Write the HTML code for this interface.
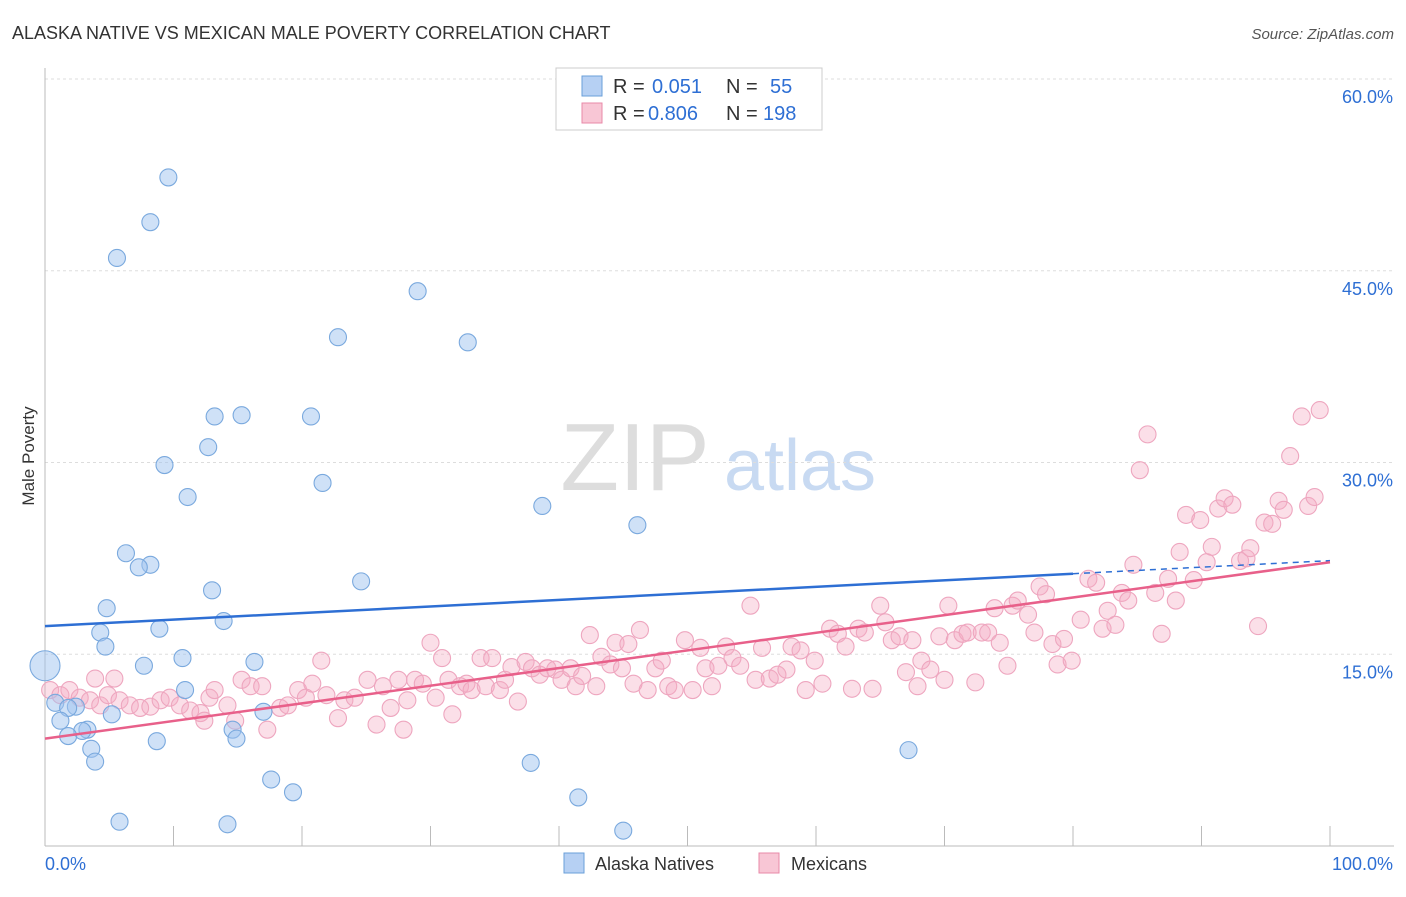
<!DOCTYPE html>
<html><head><meta charset="utf-8"><style>
body{margin:0;background:#fff;font-family:"Liberation Sans",sans-serif}
svg text{font-family:"Liberation Sans",sans-serif}
</style></head><body>
<svg id="chart" width="1406" height="892" viewBox="0 0 1406 892" xmlns="http://www.w3.org/2000/svg">
<text x="12" y="39" font-size="18" fill="#333">ALASKA NATIVE VS MEXICAN MALE POVERTY CORRELATION CHART</text>
<text x="1394" y="39" font-size="15" fill="#555" font-style="italic" text-anchor="end">Source: ZipAtlas.com</text>
<text x="34" y="456" font-size="17" fill="#333" text-anchor="middle" transform="rotate(-90 34 456)">Male Poverty</text>
<g><text x="635" y="490" font-size="96" fill="#ddd" font-family="Liberation Serif" text-anchor="middle">ZIP</text><text x="800" y="490" font-size="72" fill="#c8daf2" text-anchor="middle">atlas</text></g>
<g id="grid"></g>
<g id="axes"></g>
<g id="pts"></g>
<g id="lines"></g>
<g>
<rect x="556" y="68" width="266" height="62" fill="#fff" stroke="#ccc"/>
<rect x="582" y="76" width="20" height="20" fill="#b6d0f3" stroke="#6a9fd8"/>
<rect x="582" y="103" width="20" height="20" fill="#f8c6d5" stroke="#e889a8"/>
<text x="613" y="93" font-size="20" fill="#333">R =</text>
<text x="652" y="93" font-size="20" fill="#2e6fd4">0.051</text>
<text x="726" y="93" font-size="20" fill="#333">N =</text>
<text x="770" y="93" font-size="20" fill="#2e6fd4">55</text>
<text x="613" y="120" font-size="20" fill="#333">R =</text>
<text x="648" y="120" font-size="20" fill="#2e6fd4">0.806</text>
<text x="726" y="120" font-size="20" fill="#333">N =</text>
<text x="763" y="120" font-size="20" fill="#2e6fd4">198</text>
</g>
<g>
<rect x="564" y="853" width="20" height="20" fill="#b6d0f3" stroke="#6a9fd8"/>
<text x="595" y="870" font-size="18" fill="#333">Alaska Natives</text>
<rect x="759" y="853" width="20" height="20" fill="#f8c6d5" stroke="#e889a8"/>
<text x="791" y="870" font-size="18" fill="#333">Mexicans</text>
</g>
</svg>
<script>
const yTicks=[15,30,45,60];
const yTickLabels=["15.0%","30.0%","45.0%","60.0%"];
const xTickLabels=["0.0%","100.0%"];
const blueX=[9.6,8.2,5.6,29.0,22.8,32.9,13.2,15.3,20.7,12.7,9.3,11.1,21.6,38.7,46.1,6.3,8.2,7.3,24.6,13.0,4.8,13.9,8.9,4.3,4.7,10.7,7.7,16.3,0,10.9,0.8,2.4,1.8,5.2,17.0,1.2,3.3,2.9,1.8,14.6,14.9,8.7,3.6,3.9,67.2,37.8,17.6,19.3,41.5,5.8,14.2,45.0];
const blueY=[52.3,48.8,46.0,43.4,39.8,39.4,33.6,33.7,33.6,31.2,29.8,27.3,28.4,26.6,25.1,22.9,22.0,21.8,20.7,20.0,18.6,17.6,17.0,16.7,15.6,14.7,14.1,14.4,14.1,12.2,11.2,10.9,10.8,10.3,10.5,9.8,9.1,9.0,8.6,9.1,8.4,8.2,7.6,6.6,7.5,6.5,5.2,4.2,3.8,1.9,1.7,1.2];
const pinkX=[0.4,1.2,1.9,2.7,3.5,4.3,3.9,5.4,4.9,5.8,6.6,7.4,8.2,9.0,9.7,10.5,11.3,12.1,12.4,12.8,13.2,14.2,14.8,15.3,16.0,16.9,17.3,18.3,18.9,19.7,20.3,20.8,21.5,21.9,22.8,23.3,24.1,25.1,25.8,26.3,26.9,27.5,27.9,28.2,28.8,29.4,30.0,30.4,30.9,31.4,31.7,32.3,32.8,33.2,33.9,34.3,34.8,35.4,35.8,36.3,36.8,37.4,37.9,38.5,39.1,39.7,40.2,40.9,41.3,41.8,42.4,42.9,43.3,44.0,44.4,44.9,45.4,45.8,46.3,46.9,47.5,48.0,48.5,49.0,49.8,50.4,51.0,51.4,51.9,52.4,53.0,53.5,54.1,54.9,55.3,55.8,56.4,57.0,57.7,58.1,58.8,59.2,59.9,60.5,61.1,61.7,62.3,62.8,63.3,63.8,64.4,65.0,65.4,65.9,66.5,67.0,67.5,67.9,68.2,68.9,69.6,70.0,70.3,70.8,71.4,71.8,72.4,72.9,73.4,73.9,74.3,74.9,75.3,75.7,76.5,77.0,77.4,77.9,78.4,78.8,79.3,79.9,80.6,81.2,81.8,82.3,82.7,83.3,83.8,84.3,84.7,85.2,85.8,86.4,86.9,87.4,88.0,88.3,88.8,89.4,89.9,90.4,90.8,91.3,91.8,92.4,93.0,93.5,93.8,94.4,94.9,95.5,96.0,96.4,96.9,97.8,98.3,98.8,99.2];
const pinkY=[12.2,11.8,12.2,11.6,11.4,11.0,13.1,13.1,11.8,11.4,11.0,10.8,10.9,11.4,11.6,11.0,10.6,10.4,9.8,11.6,12.2,11.0,9.8,13.0,12.5,12.5,9.1,10.8,11.0,12.2,11.6,12.7,14.5,11.8,10.0,11.4,11.6,13.0,9.5,12.5,10.8,13.0,9.1,11.4,13.0,12.7,15.9,11.6,14.7,13.0,10.3,12.5,12.7,12.2,14.7,12.5,14.7,12.2,13.0,14.0,11.3,14.4,13.9,13.4,13.9,13.8,13.0,13.9,12.5,13.3,16.5,12.5,14.8,14.2,15.9,13.9,15.8,12.7,16.9,12.2,13.9,14.5,12.5,12.2,16.1,12.2,15.5,13.9,12.5,14.1,15.6,14.7,14.1,18.8,13.0,15.5,13.1,13.4,13.8,15.6,15.3,12.2,14.5,12.7,17.0,16.6,15.6,12.3,17.0,16.7,12.3,18.8,17.5,16.1,16.4,13.6,16.1,12.5,14.5,13.8,16.4,13.0,18.8,16.1,16.6,16.7,12.8,16.7,16.7,18.6,15.9,14.1,18.8,19.2,18.1,16.7,20.3,19.7,15.8,14.2,16.2,14.5,17.7,20.9,20.6,17.0,18.4,17.3,19.8,19.2,22.0,29.4,32.2,19.8,16.6,20.9,19.2,23.0,25.9,20.8,25.5,22.2,23.4,26.4,27.2,26.7,22.3,22.5,23.3,17.2,25.3,25.2,27.0,26.3,30.5,33.6,26.6,27.3,34.1];
const blueFit=[17.2,21.3];
const pinkFit=[8.4,22.2];
const NS="http://www.w3.org/2000/svg";
const L=45,R=1330,T=79,B=846;
const xs=v=>L+(R-L)*v/100;
const ys=v=>B-(B-T)*v/60;
function mk(tag,attrs,parent){const e=document.createElementNS(NS,tag);for(const k in attrs)e.setAttribute(k,attrs[k]);parent.appendChild(e);return e;}
const grid=document.getElementById('grid'),axes=document.getElementById('axes'),pts=document.getElementById('pts'),lines=document.getElementById('lines');
yTicks.forEach((t,i)=>{
 const g=mk('line',{x1:L,x2:1394,y1:ys(t),y2:ys(t),stroke:'#ddd','stroke-dasharray':'3,3'},grid);
 
 
 const tx=mk('text',{x:1393,y:ys(t)+24,'font-size':18,fill:'#2e6fd4','text-anchor':'end'},axes);
 tx.textContent=yTickLabels[i];
 
 
});
mk('line',{x1:L,x2:L,y1:68,y2:B,stroke:'#bbb'},axes);
mk('line',{x1:L,x2:1394,y1:B,y2:B,stroke:'#bbb'},axes);
for(let i=0;i<=10;i++){const t=mk('line',{x1:xs(i*10),x2:xs(i*10),y1:B,y2:B-20,stroke:'#bbb'},axes);}
const xl0=mk('text',{x:45,y:870,'font-size':18,fill:'#2e6fd4'},axes);xl0.textContent=xTickLabels[0];


const xl1=mk('text',{x:1393,y:870,'font-size':18,fill:'#2e6fd4','text-anchor':'end'},axes);xl1.textContent=xTickLabels[1];


pinkX.forEach((x,i)=>{const c=mk('circle',{cx:xs(x),cy:ys(pinkY[i]),r:8.5,fill:'rgba(245,170,195,0.38)',stroke:'#eea6bf','stroke-width':1.1},pts);
 
 });
blueX.forEach((x,i)=>{const c=mk('circle',{cx:xs(x),cy:ys(blueY[i]),r:i==28?15:8.5,fill:'rgba(160,196,240,0.5)',stroke:'#7aa9de','stroke-width':1.1},pts);
 
 });
const bx=80;
const bl=mk('line',{x1:xs(0),y1:ys(blueFit[0]),x2:xs(bx),y2:ys(blueFit[1]),stroke:'#2e6fd4','stroke-width':2.5},lines);


const slope=(blueFit[1]-blueFit[0])/bx;
const bd=mk('line',{x1:xs(bx),y1:ys(blueFit[1]),x2:xs(100),y2:ys(blueFit[0]+slope*100),stroke:'#2e6fd4','stroke-width':1.5,'stroke-dasharray':'6,5'},lines);


const pl=mk('line',{x1:xs(0),y1:ys(pinkFit[0]),x2:xs(100),y2:ys(pinkFit[1]),stroke:'#e8608a','stroke-width':2.5},lines);


</script>
</body></html>
